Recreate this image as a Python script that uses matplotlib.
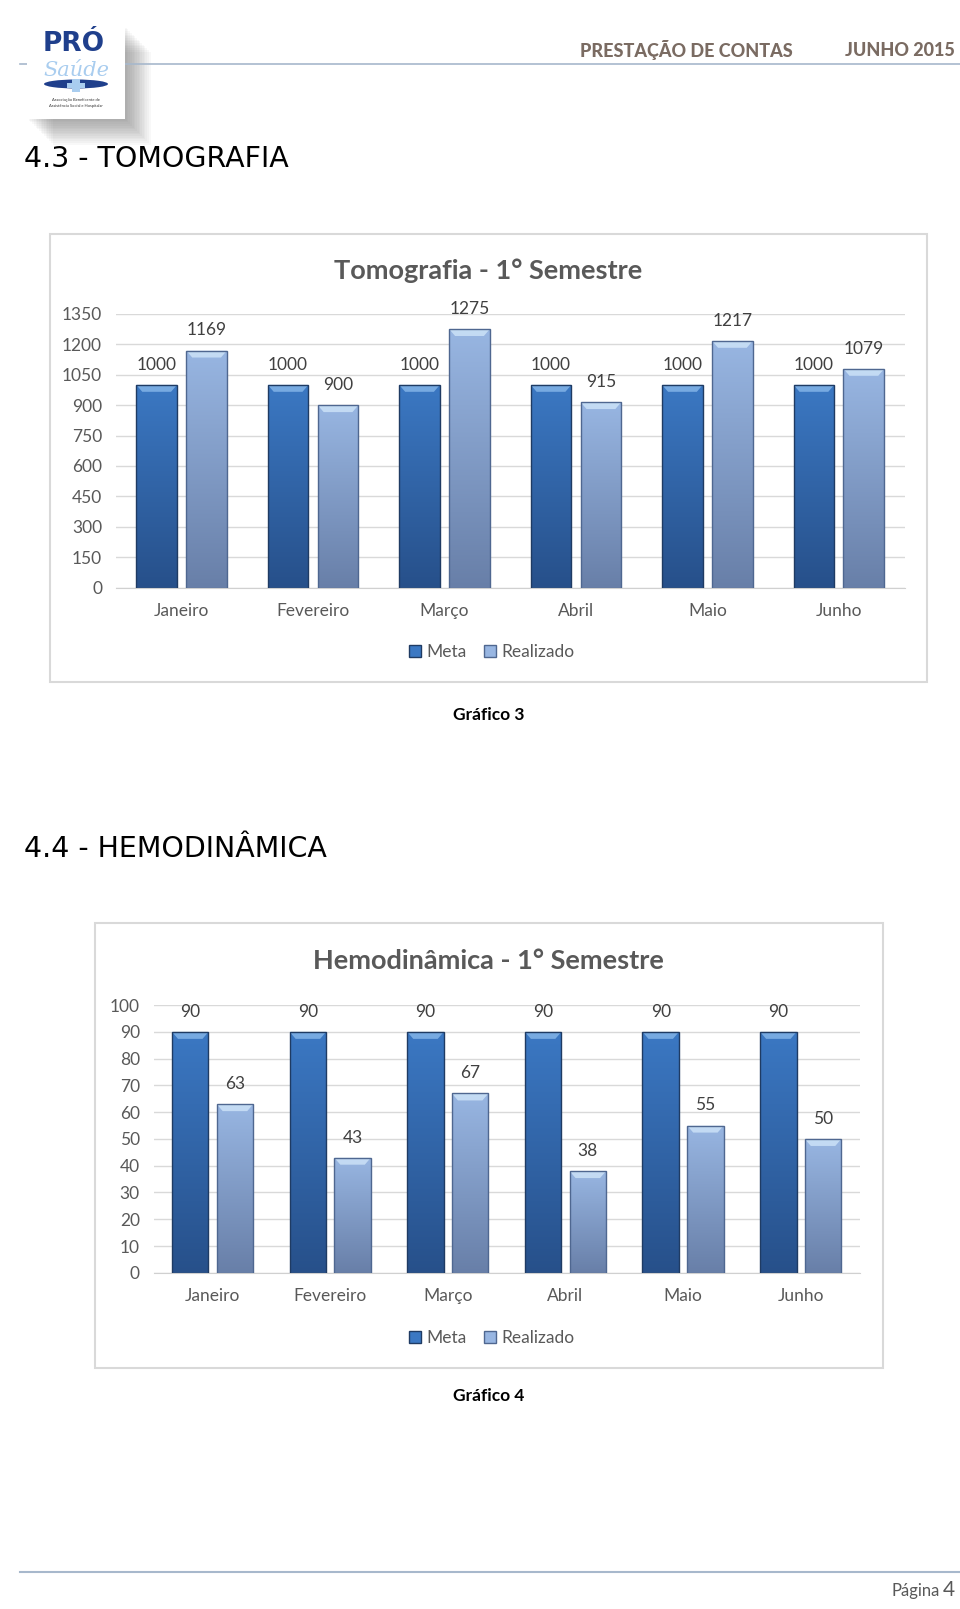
import numpy as np
import matplotlib
matplotlib.use("Agg")
import matplotlib.pyplot as plt
from matplotlib.patches import Rectangle, Polygon, Ellipse, Patch
from matplotlib.colors import LinearSegmentedColormap

# Data
months = ["Janeiro", "Fevereiro", "Março", "Abril", "Maio", "Junho"]
tomo_meta = [1000, 1000, 1000, 1000, 1000, 1000]
tomo_real = [1169, 900, 1275, 915, 1217, 1079]
hemo_meta = [90, 90, 90, 90, 90, 90]
hemo_real = [63, 43, 67, 38, 55, 50]
series_names = ["Meta", "Realizado"]

W, H = 960, 1609
plt.rcParams["font.family"] = ["Lato", "DejaVu Sans"]
TXT = "#595959"

# bar styles: (bottom colour, top colour, edge, bevel)
meta_style = ("#27508a", "#3b78c3", "#1f3b63", "#8cbcec")
real_style = ("#687fa8", "#98b6e2", "#4f6790", "#d3e8fa")

fig = plt.figure(figsize=(W / 100, H / 100), dpi=100)
bg = fig.add_axes([0, 0, 1, 1])
bg.set_xlim(0, W)
bg.set_ylim(H, 0)
bg.axis("off")


def px_axes(x0, y_top, x1, y_bottom):
    return fig.add_axes([x0 / W, 1 - y_bottom / H, (x1 - x0) / W, (y_bottom - y_top) / H])


def gradient_bars(ax, xs, vals, width, style, ymax):
    bottom_c, top_c, edge, bevel = style
    cmap = LinearSegmentedColormap.from_list("g", [bottom_c, top_c])
    grad = np.linspace(0, 1, 256).reshape(-1, 1)
    bars = ax.bar(xs, vals, width, facecolor="none", edgecolor=edge, linewidth=1.0, zorder=3)
    pos = ax.get_position()
    ux = 6.0 / (pos.width * W)      # data units per pixel, x
    uy = ymax / (pos.height * H)    # data units per pixel, y
    for rect, v in zip(bars, vals):
        x0 = rect.get_x()
        x1 = x0 + rect.get_width()
        im = ax.imshow(grad, extent=[x0, x1, 0, v], origin="lower", cmap=cmap,
                       aspect="auto", zorder=2, interpolation="bicubic")
        im.set_clip_path(rect)
        d, h = 6 * ux, 7 * uy
        ax.add_patch(Polygon([(x0, v), (x1, v), (x1 - d, v - h), (x0 + d, v - h)],
                             closed=True, facecolor=bevel, edgecolor="none", alpha=0.75, zorder=2.5))
        ax.annotate(str(v), (rect.get_x() + rect.get_width() / 2, v), xytext=(0, 14.5),
                    textcoords="offset points", ha="center", va="center",
                    fontsize=12.5, color="#404040")
    return bars


def draw_chart(ax, meta, real, ymax, ystep, frame, legend_xy):
    fx0, fy0, fx1, fy1 = frame
    bg.add_patch(Rectangle((fx0, fy0), fx1 - fx0, fy1 - fy0, facecolor="white",
                           edgecolor="#d9d9d9", linewidth=1.5))
    ax.set_xlim(-0.5, 5.5)
    ax.set_ylim(0, ymax)
    x = np.arange(len(months))
    gradient_bars(ax, x - 0.19, meta, 0.31, meta_style, ymax)
    gradient_bars(ax, x + 0.19, real, 0.31, real_style, ymax)
    ax.set_xlim(-0.5, 5.5)
    ax.set_ylim(0, ymax)
    ax.set_yticks(range(0, ymax + 1, ystep))
    ax.set_xticks(x)
    ax.set_xticklabels(months)
    ax.tick_params(axis="both", length=0, labelsize=12.5, labelcolor=TXT)
    ax.tick_params(axis="x", pad=11)
    ax.tick_params(axis="y", pad=10)
    ax.yaxis.grid(True, color="#d9d9d9", linewidth=1)
    ax.set_axisbelow(True)
    for s in ["top", "right", "left"]:
        ax.spines[s].set_visible(False)
    ax.spines["bottom"].set_color("#d0d0d0")
    ax.patch.set_alpha(0)
    handles = [Patch(facecolor=meta_style[1], edgecolor=meta_style[2]),
               Patch(facecolor=real_style[1], edgecolor=real_style[2])]
    fig.legend(handles, series_names, loc="center",
               bbox_to_anchor=(legend_xy[0] / W, 1 - legend_xy[1] / H), ncol=2,
               frameon=False, fontsize=12.5, labelcolor=TXT, handlelength=0.7,
               handleheight=0.7, handletextpad=0.3, columnspacing=1.0)


# header: logo with soft shadow
for i in range(16):
    bg.add_patch(Rectangle((27 + i * 1.7, 26 + i * 1.7), 98, 93, facecolor="#4a4a4a",
                           edgecolor="none", alpha=0.035))
bg.add_patch(Rectangle((27, 26), 98, 93, facecolor="white", edgecolor="none", zorder=3))
bg.text(74, 44, "PRÓ", ha="center", va="center", fontsize=19, fontweight="bold",
        color="#1f3f8c", family="DejaVu Sans", zorder=4)
bg.text(76, 70, "Saúde", ha="center", va="center", fontsize=15, style="italic",
        color="#a9cdef", family="DejaVu Serif", zorder=4)
bg.add_patch(Ellipse((76, 84), 64, 9, facecolor="#1f3f8c", zorder=4))
bg.add_patch(Rectangle((72, 79), 8, 13, facecolor="#a9cdef", zorder=5))
bg.add_patch(Rectangle((67, 83), 18, 5, facecolor="#a9cdef", zorder=5))
bg.text(76, 100, "Associação Beneficente de", ha="center", va="center", fontsize=3,
        color="#333333", zorder=4)
bg.text(76, 106, "Assistência Social e Hospitalar", ha="center", va="center", fontsize=3,
        color="#333333", zorder=4)
bg.plot([20, 960], [63.6, 63.6], color="#a7b8cc", linewidth=1.2, zorder=1)
bg.text(793, 50, "PRESTAÇÃO DE CONTAS", ha="right", va="center", fontsize=13,
        fontweight="black", color="#7a6b62")
bg.text(955, 50, "JUNHO 2015", ha="right", va="center", fontsize=13,
        fontweight="black", color="#7a6b62")

# section 4.3
bg.text(24, 159, "4.3 - TOMOGRAFIA", ha="left", va="center", fontsize=20.5,
        color="black", family="DejaVu Sans")
ax1 = px_axes(115.9, 313.8, 904.6, 587.7)
draw_chart(ax1, tomo_meta, tomo_real, 1350, 150, (50, 234, 927, 682), (492, 652))
bg.text(488, 271, "Tomografia - 1° Semestre", ha="center", va="center", fontsize=19.5,
        fontweight="bold", color=TXT)
bg.text(489, 715, "Gráfico 3", ha="center", va="center", fontsize=12.5, fontweight="bold",
        color="black")

# section 4.4
bg.text(24, 849, "4.4 - HEMODINÂMICA", ha="left", va="center", fontsize=20.5,
        color="black", family="DejaVu Sans")
ax2 = px_axes(153.8, 1005.1, 859.5, 1272.8)
draw_chart(ax2, hemo_meta, hemo_real, 100, 10, (95, 923, 883, 1368), (492, 1338))
bg.text(488, 961, "Hemodinâmica - 1° Semestre", ha="center", va="center", fontsize=19.5,
        fontweight="bold", color=TXT)
bg.text(489, 1396, "Gráfico 4", ha="center", va="center", fontsize=12.5, fontweight="bold",
        color="black")

# footer
bg.plot([20, 960], [1572, 1572], color="#a7b8cc", linewidth=1.5)
bg.text(940, 1591, "Página", ha="right", va="center", fontsize=12, color=TXT)
bg.text(955, 1590, "4", ha="right", va="center", fontsize=15, color=TXT)

fig.savefig("out.png", dpi=100)
